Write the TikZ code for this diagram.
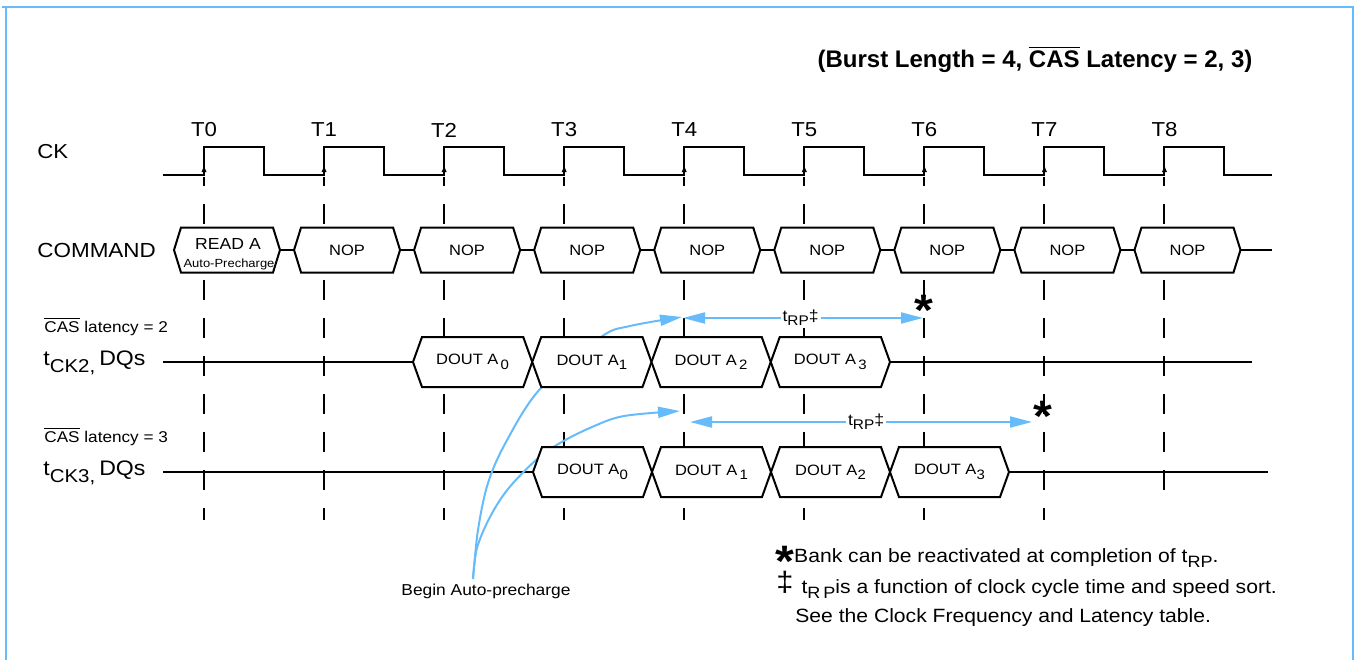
\documentclass[tikz,border=0pt]{standalone}
\usepackage{fontspec}
\setmainfont{Liberation Sans}[FakeStretch=1.1]
\newfontfamily\headfont{Liberation Sans}
\usetikzlibrary{calc,arrows.meta}
\definecolor{sigblue}{RGB}{102,187,250}
\def\fsz#1{\fontsize{#1}{#1}\selectfont}
\def\ovl#1{\vbox{\hrule height 0.6pt\kern 1.2pt\hbox{#1}}}
\def\sbs#1#2#3{\raisebox{-#2}{\fsz{#1}#3}}
\def\hexbox(#1,#2,#3,#4,#5){\draw[sig, fill=white] (#1,#3) -- (#1+#5,#3-#4) -- (#2-#5,#3-#4) -- (#2,#3) -- (#2-#5,#3+#4) -- (#1+#5,#3+#4) -- cycle;}
\tikzset{
	sig/.style={line width=1pt, line join=miter},
	tline/.style={line width=1pt, dash pattern=on 10pt off 9pt, dash phase=5.5pt},
	curve/.style={line width=1pt, sigblue, -{Triangle[length=11pt,width=5.5pt]}},
	rparrow/.style={line width=1pt, sigblue, {Triangle[length=11pt,width=5.5pt]}-{Triangle[length=11pt,width=5.5pt]}},
	lbl/.style={inner sep=0pt, font=\fsz{10.1}},
	boxtxt/.style={inner sep=0pt, font=\fsz{7.5}},
	rplbl/.style={fill=white, text=black, inner sep=1pt, font=\fsz{8}},
	note/.style={inner sep=0pt, font=\fsz{9.6}, anchor=base west},
	astk/.style={inner sep=0pt, font=\bfseries\fsz{22}, anchor=north},
}

\begin{document}
\begin{tikzpicture}[x=0.5pt, y=-0.5pt]
			%%%%% START %%%%%
			\useasboundingbox (0,0) rectangle (1357,660);
			
			\draw[sigblue, line width=1pt] (2,7) -- (1353,7) -- (1353,660);
			\draw[sigblue, line width=1pt] (6,7) -- (6,660);
			
			\node[font=\headfont\bfseries\fsz{12}, inner sep=0pt, anchor=base] (title) at (1035,67) {(Burst Length = 4, \ovl{CAS} Latency = 2, 3)};
			
			\foreach \i in {0,...,8}{
				\pgfmathsetmacro\tx{204+120.06*\i}
				\pgfmathsetmacro\tend{\i==8 ? 495 : 520}
				\draw[tline] (\tx,177) -- (\tx,\tend);
				\node[lbl] (t\i) at (\tx,130) {T\i};
				\draw[-{Latex[length=3.5pt,width=2.6pt]}, line width=0.5pt] (\tx,175) -- (\tx,165);
			}
			\draw[sig] (163,175) foreach \i in {0,...,8}{ -- ({204+120.06*\i},175) -- ++(0,-28) -- ++(60,0) -- ++(0,28) } -- (1272,175);
			
			\node[lbl, anchor=west] (ck) at (37,152) {CK};
			\node[lbl, anchor=west, font=\fsz{10.2}] (command) at (37,250) {COMMAND};
			
			\draw[sig] (280,250) -- (1272,250);
			\hexbox(174,280,250,22.5,7)
			\node[inner sep=0pt, font=\fsz{8}] (cmd0) at (228,244) {READ A};
			\node[inner sep=0pt, font=\fsz{5.9}] (cmd0b) at (229,264) {Auto-Precharge};
			\foreach \i in {1,...,8}{
				\pgfmathsetmacro\tx{204+120.06*\i}
				\hexbox(\tx-30,\tx+76,250,22.5,7)
				\node[boxtxt] (cmd\i) at (\tx+23,250) {NOP};
			}
			
			\node[note, font=\fsz{7.8}] (cas2) at (44,332) {\ovl{CAS} latency = 2};
			\node[note, font=\fsz{10.5}] (dq2) at (43,365) {t\sbs{9.3}{3.5pt}{CK2,}\hspace{2pt}DQs};
			\node[note, font=\fsz{7.8}] (cas3) at (44,442) {\ovl{CAS} latency = 3};
			\node[note, font=\fsz{10.5}] (dq3) at (43,475) {t\sbs{9.3}{3.5pt}{CK3,}\hspace{2pt}DQs};
			
			\draw[sig] (163,362) -- (1252,362);
			\draw[sig] (163,472) -- (1268,472);
			
			\node[inner sep=0pt, font=\fsz{7.9}] (bap) at (486,591) {Begin Auto-precharge};
			\coordinate (bapt) at (473,579);
			\coordinate (ap2) at (682,317);
			\coordinate (ap3) at (680,411);
			\draw[curve] plot[smooth, tension=0.55] coordinates {(bapt) (478,530) (488,483) (506,442) (540,389) (601,337) (630,326) (ap2)};
			\draw[curve] plot[smooth, tension=0.55] coordinates {(bapt) (477,548) (490,517) (508,489) (536,460) (560,443) (592,427) (624,416) (ap3)};
			
			\foreach \k/\dsub in {0/{\,0},1/1,2/{\,2},3/{\,3}}{
				\pgfmathsetmacro\bl{413+119.25*\k}
				\hexbox(\bl,\bl+119.25,362,25,9)
				\node[boxtxt] (dqa\k) at (\bl+59.6,362) {DOUT A\sbs{6.8}{2.2pt}{\dsub}};
			}
			\foreach \k/\dsub in {0/0,1/{\,1},2/2,3/3}{
				\pgfmathsetmacro\bl{533+119*\k}
				\hexbox(\bl,\bl+119,472,25,9)
				\node[boxtxt] (dqb\k) at (\bl+59.5,472) {DOUT A\sbs{6.8}{2.2pt}{\dsub}};
			}
			
			\coordinate (rp2l) at (683,318);
			\coordinate (rp2r) at (923,318);
			\draw[rparrow] (rp2l) -- node[rplbl, pos=0.49] (trp2) {t\sbs{7}{2pt}{RP}‡} (rp2r);
			\node[astk] (ast2) at (924,295) {*};
			
			\coordinate (rp3l) at (690,422);
			\coordinate (rp3r) at (1032,422);
			\draw[rparrow] (rp3l) -- node[rplbl, pos=0.515] (trp3) {t\sbs{7}{2pt}{RP}‡} (rp3r);
			\node[astk] (ast3) at (1043,401) {*};
			
			\node[note] (n1) at (775,562) {\raisebox{-7pt}[\height][0pt]{\bfseries\fsz{22}*}Bank can be reactivated at completion of t\sbs{8.2}{2.6pt}{RP}.};
			\node[note] (n2) at (776,593) {\raisebox{1pt}{\fsz{14}‡}\hspace{4pt}t\sbs{8.2}{2.6pt}{R\hspace{1.5pt}P}is a function of clock cycle time and speed sort.};
			\node[note] (n3) at (795,622) {See the Clock Frequency and Latency table.};
			
			%%%%% END %%%%%
\end{tikzpicture}
\end{document}
